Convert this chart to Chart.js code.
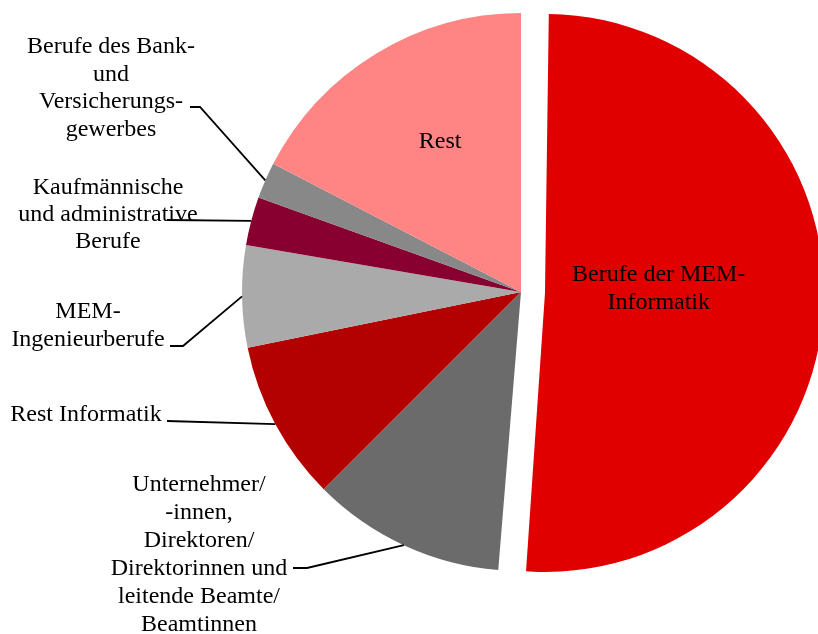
<!DOCTYPE html>
<html>
  <head>
    <title>Berufe</title>
    <script src="https://cdn.jsdelivr.net/npm/chart.js"></script>
    <style>
      html,
      body {
        margin: 0;
        padding: 0;
        width: 818px;
        height: 634px;
        overflow: hidden;
        background: #fff;
      }
      #pie {
        position: absolute;
        left: 0;
        top: 0;
      }
    </style>
  </head>
  <body>
    <canvas id="pie" width="1042" height="634"></canvas>
    <script>
      // categories, clockwise from 12 o'clock
      const categories = [
        ["Berufe der MEM-", "Informatik"],
        ["Unternehmer/", "-innen,", "Direktoren/", "Direktorinnen und", "leitende Beamte/", "Beamtinnen"],
        ["Rest Informatik"],
        ["MEM-", "Ingenieurberufe"],
        ["Kaufmännische", "und administrative", "Berufe"],
        ["Berufe des Bank-", "und", "Versicherungs-", "gewerbes"],
        ["Rest"],
      ];
      // share in percent
      const shares = [51.3, 11.2, 9.3, 5.9, 2.8, 2.1, 17.4];
      const sliceColors = ["#e00000", "#6b6b6b", "#b30000", "#aaaaaa", "#88002f", "#888888", "#ff8585"];
      // chart.js v4 moves a slice by offset/4 (and grows it by the same amount)
      const sliceOffsets = [96, 0, 0, 0, 0, 0, 0];
      const pieRadius = 279;

      // where the labels go (layout only)
      const labelPlace = [
        { inside: 0.408, dx: 0, dy: -9 },
        { x: 199, y: 485, lh: 28, lead: [[307, 568], [293, 568]] },
        { x: 86, y: 414.5, lh: 28, lead: [[167, 421]] },
        { x: 88, y: 311.5, lh: 28, lead: [[183, 346], [170, 346]] },
        { x: 108, y: 188, lh: 26.8, lead: [[167, 220]] },
        { x: 111, y: 46.5, lh: 27.8, lead: [[200, 107], [190, 107]] },
        { inside: 0.613, dx: 8, dy: -4 },
      ];

      const lineHeight = 27.8;

      // keep the exploded slice at the same radius as the others
      const fixRadius = {
        id: "fixRadius",
        afterDatasetsUpdate(chart) {
          chart.getDatasetMeta(0).data.forEach((arc, i) => {
            const grow = arc.circumference >= Math.PI ? 1 : 1 - Math.sin(arc.circumference);
            arc.outerRadius = pieRadius - (sliceOffsets[i] / 4) * grow;
          });
        },
      };

      const labelPlugin = {
        id: "labels",
        afterDatasetsDraw(chart) {
          const ctx = chart.ctx;
          const arcs = chart.getDatasetMeta(0).data;
          ctx.save();
          ctx.font = "24px 'Liberation Serif'";
          ctx.fillStyle = "#000";
          ctx.textAlign = "center";
          ctx.textBaseline = "middle";
          ctx.strokeStyle = "#000";
          ctx.lineWidth = 1.8;
          arcs.forEach((arc, i) => {
            const p = labelPlace[i];
            const lines = categories[i];
            const mid = (arc.startAngle + arc.endAngle) / 2;
            const off = sliceOffsets[i] / 4;
            const cx = arc.x + Math.cos(mid) * off;
            const cy = arc.y + Math.sin(mid) * off;
            if (p.inside) {
              const r = pieRadius * p.inside;
              const tx = cx + Math.cos(mid) * r + p.dx;
              const ty = cy + Math.sin(mid) * r + p.dy - ((lines.length - 1) * lineHeight) / 2;
              lines.forEach((t, k) => ctx.fillText(t, tx, ty + k * lineHeight));
            } else {
              lines.forEach((t, k) => ctx.fillText(t, p.x, p.y + k * p.lh));
              ctx.beginPath();
              ctx.moveTo(cx + Math.cos(mid) * pieRadius, cy + Math.sin(mid) * pieRadius);
              p.lead.forEach((pt) => ctx.lineTo(pt[0], pt[1]));
              ctx.stroke();
            }
          });
          ctx.restore();
        },
      };

      new Chart(document.getElementById("pie"), {
        type: "pie",
        data: {
          labels: categories,
          datasets: [
            {
              data: shares,
              backgroundColor: sliceColors,
              offset: sliceOffsets,
              borderWidth: 0,
            },
          ],
        },
        options: {
          responsive: false,
          animation: false,
          radius: pieRadius,
          layout: { padding: { bottom: 50 } },
          plugins: {
            legend: { display: false },
            tooltip: { enabled: false },
          },
        },
        plugins: [fixRadius, labelPlugin],
      });
    </script>
  </body>
</html>
